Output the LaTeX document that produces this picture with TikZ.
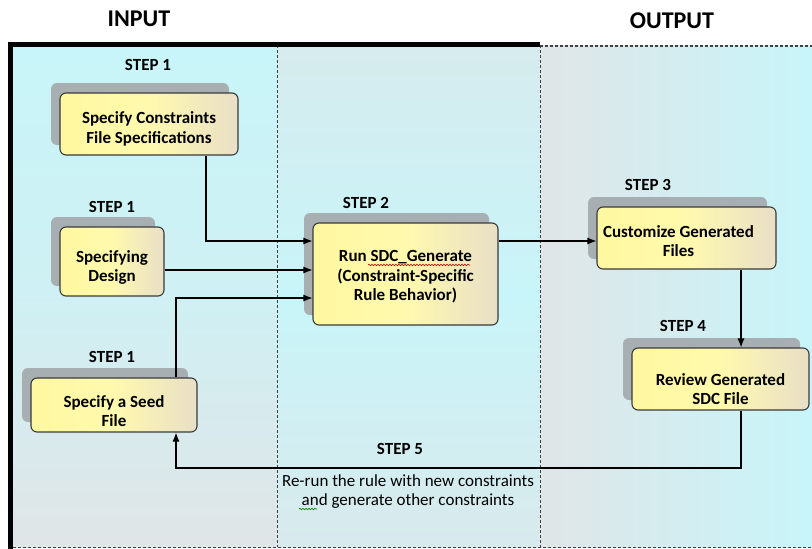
\documentclass[tikz,border=0pt]{standalone}
\usepackage{fontspec}
\setmainfont{Carlito}
\usetikzlibrary{arrows.meta,calc,shadows,decorations.pathmorphing}
\definecolor{panelcyan}{HTML}{C8F5F9}
\definecolor{panelgray}{HTML}{E0E5E7}
\definecolor{boxyellow}{HTML}{FFF8A0}
\definecolor{boxtan}{HTML}{E8DFC6}
\definecolor{shadowgray}{HTML}{A8AFB2}
\definecolor{boxborder}{HTML}{3A3A3A}
\begin{document}
\begin{tikzpicture}[x=1pt,y=-1pt,
  stepbox/.style={draw=boxborder, line width=1.1pt, rounded corners=6pt,
    left color=boxyellow, right color=boxtan, middle color=boxyellow!85!white,
    inner sep=0pt,
    drop shadow={shadow xshift=-9pt, shadow yshift=10pt, fill=shadowgray, opacity=1}},
  boxtext/.style={align=center, font=\fontsize{17}{19.5}\selectfont\bfseries, inner sep=0pt},
  steplabel/.style={font=\fontsize{17}{19}\selectfont\bfseries, inner sep=0pt},
  headlabel/.style={font=\fontsize{24}{28}\selectfont\bfseries, inner sep=0pt},
  conn/.style={draw=black, line width=1.1pt, -{Latex[length=9pt,width=7pt]}},
  squiggle/.style={line width=0.6pt, decorate, decoration={snake, amplitude=0.8pt, segment length=3pt}},
  panelborder/.style={draw=black!75, line width=0.8pt, dash pattern=on 3pt off 2pt}]
\useasboundingbox (0,0) rectangle (812,549);
\fill[white] (0,0) rectangle (812,549);
% panels
\shade[top color=panelcyan, bottom color=panelgray, middle color=panelcyan!70!panelgray] (13,45) rectangle (277,547);
\shade[top color=panelgray!60!panelcyan, bottom color=panelgray!70!panelcyan, middle color=panelcyan] (277,45) rectangle (540,547);
\shade[left color=panelgray, right color=panelcyan] (540,45) rectangle (812,547);
\draw[panelborder] (277,45) -- (277,547);
\draw[panelborder] (540,45) -- (540,547);
\draw[panelborder, line width=1.2pt] (540,46) -- (812,46);
\draw[panelborder] (13,547) -- (812,547);
\draw[black, line width=5pt] (10,549) -- (10,44) -- (540,44);
% headings
\node[headlabel] (inp) at (139,19) {INPUT};
\node[headlabel] (outp) at (672,21) {OUTPUT};
% boxes
\node[stepbox, minimum width=178pt, minimum height=62pt] (b1) at (149,124) {};
\node[stepbox, minimum width=104pt, minimum height=69pt] (b2) at (112,261.5) {};
\node[stepbox, minimum width=166pt, minimum height=54pt] (b3) at (114,405) {};
\node[stepbox, minimum width=185pt, minimum height=102pt] (b4) at (405.5,274) {};
\node[stepbox, minimum width=179pt, minimum height=62pt] (b5) at (686.5,238) {};
\node[stepbox, minimum width=177pt, minimum height=62pt] (b6) at (720.5,379) {};
% box texts
\node[boxtext] (t1) at ($(b1.center)+(0,5)$) {Specify Constraints\\File Specifications};
\node[boxtext] (t2) at ($(b2.center)+(0,6)$) {Specifying\\Design};
\node[boxtext] (t3) at ($(b3.center)+(0,6)$) {Specify a Seed\\File};
\node[boxtext] (t4) at ($(b4.center)+(0,3)$) {Run SDC\_Generate\\(Constraint-Specific\\Rule Behavior)};
\node[boxtext] (t5) at ($(b5.center)+(-8,3)$) {Customize Generated\\Files};
\node[boxtext] (t6) at ($(b6.center)+(0,10)$) {Review Generated\\SDC File};
% step labels
\node[steplabel] (s1a) at (148,65) {STEP 1};
\node[steplabel] (s1b) at (112,207) {STEP 1};
\node[steplabel] (s1c) at (112,357) {STEP 1};
\node[steplabel] (s2) at (366,203) {STEP 2};
\node[steplabel] (s3) at (648,185) {STEP 3};
\node[steplabel] (s4) at (683,326) {STEP 4};
\node[steplabel] (s5) at (400,449) {STEP 5};
\node[font=\fontsize{17}{19}\selectfont, align=center, inner sep=0pt] (rerun) at (408,492) {Re-run the rule with new constraints\\and generate other constraints};
% spell-check marks
\draw[squiggle, red!80!black] (368,265) -- (470,265);
\draw[squiggle, green!50!black] (299,509) -- (317,509);
% connectors
\coordinate (y1) at (206,241);
\coordinate (y2) at (0,270);
\coordinate (y3) at (176,298);
\coordinate (xr) at (741,468);
\draw[conn] (b1.south -| y1) |- (b4.west |- y1);
\draw[conn] (b2.east |- y2) -- (b4.west |- y2);
\draw[conn] (b3.north -| y3) |- (b4.west |- y3);
\draw[conn] (b4.east |- y1) -- (b5.west |- y1);
\draw[conn] (b5.south -| xr) -- (b6.north -| xr);
\draw[conn] (b6.south -| xr) |- (y3 |- xr) -- (b3.south -| y3);
\end{tikzpicture}
\end{document}
